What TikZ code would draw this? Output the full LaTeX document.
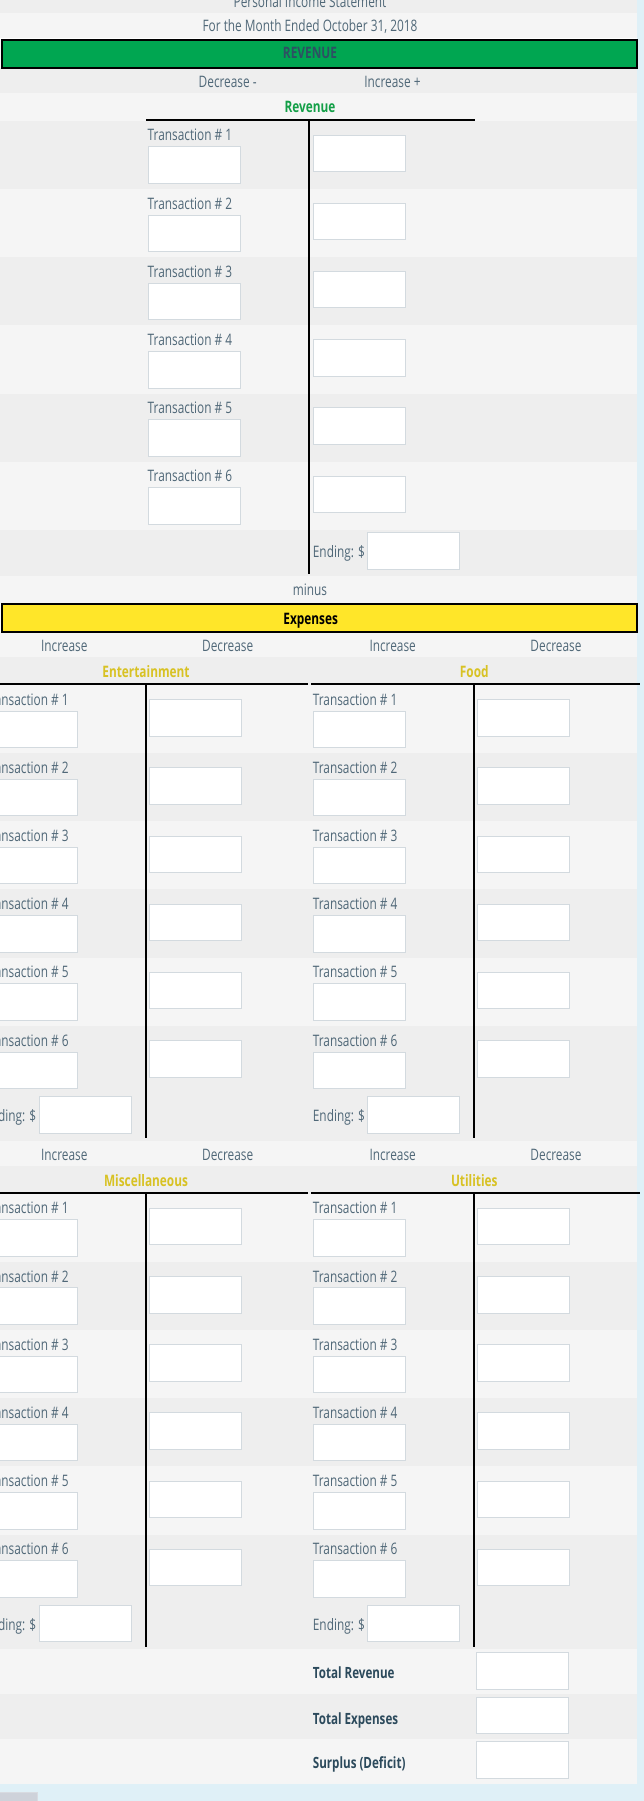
\documentclass[tikz,border=0pt]{standalone}
\usepackage{fontspec}
\setmainfont{Open Sans}[FakeStretch=0.75]
\definecolor{bgdark}{HTML}{EEEEEE}
\definecolor{bglight}{HTML}{F5F5F5}
\definecolor{skyblue}{HTML}{DFF0F7}
\definecolor{revgreen}{HTML}{00A651}
\definecolor{headgreen}{HTML}{139F47}
\definecolor{expyellow}{HTML}{FFE629}
\definecolor{headgold}{HTML}{D8C224}
\definecolor{txtc}{HTML}{506878}
\definecolor{darktxt}{HTML}{2C4A5C}
\definecolor{bartxt}{HTML}{2E5063}
\definecolor{boxline}{HTML}{D3DADF}
\definecolor{greyrect}{HTML}{CED2DA}
\tikzset{
  lbl/.style={font=\fontsize{15.8}{18}\selectfont, text=txtc, inner sep=0pt, anchor=base west},
  clbl/.style={lbl, anchor=base},
  hd/.style={clbl, font=\fontsize{15.8}{18}\selectfont\bfseries},
  tot/.style={lbl, text=darktxt, font=\fontsize{15.5}{18}\selectfont\bfseries},
  inbox/.style={draw=boxline, fill=white, line width=1pt, inner sep=0pt,
    minimum width=92pt, minimum height=36.5pt, anchor=north west},
  tline/.style={draw=black, line width=2pt},
  barbox/.style={draw=black, line width=2pt, inner sep=0pt, anchor=north west,
    minimum width=634.4pt, minimum height=28pt}
}
\begin{document}
\begin{tikzpicture}[x=1pt,y=-1pt]
\useasboundingbox (0,0) rectangle (644,1801);
\clip (0,0) rectangle (644,1801);
% ---------- backgrounds ----------
\fill[bgdark] (0,0) rectangle (637,12.7);
\fill[bglight] (0,12.7) rectangle (637,38.5);
\fill[bgdark] (0,68) rectangle (637,93);
\fill[bglight] (0,93) rectangle (637,120.7);
\foreach \k/\col in {1/bgdark,2/bglight,3/bgdark,4/bglight,5/bgdark,6/bglight}{
  \pgfmathsetmacro{\B}{120.7+68.2*(\k-1)}
  \fill[\col] (0,\B) rectangle (637,\B+68.2);
}
\fill[bgdark] (0,529.9) rectangle (637,576.3);
\fill[bglight] (0,576.3) rectangle (637,602.5);
\foreach \off in {0,508.7}{
  \fill[bglight] (0,631.8+\off) rectangle (637,657.3+\off);
  \fill[bgdark] (0,657.3+\off) rectangle (637,684.8+\off);
  \foreach \k/\col in {1/bglight,2/bgdark,3/bglight,4/bgdark,5/bglight,6/bgdark}{
    \pgfmathsetmacro{\B}{684.8+\off+68.2*(\k-1)}
    \fill[\col] (0,\B) rectangle (637,\B+68.2);
  }
  \fill[bgdark] (0,1094+\off) rectangle (637,1140.5+\off);
}
\fill[bglight] (0,1649.2) rectangle (637,1694.3);
\fill[bgdark] (0,1694.3) rectangle (637,1739);
\fill[bglight] (0,1739) rectangle (637,1783.7);
\fill[skyblue] (637,0) rectangle (644,1801);
\fill[skyblue] (0,1783.7) rectangle (644,1801);
\fill[greyrect, draw=greyrect!80!white] (-1,1792.6) rectangle (37.5,1802);
% ---------- header ----------
\node[clbl] (title) at (310,7.3) {Personal Income Statement};
\node[clbl] (subtitle) at (310,32) {For the Month Ended October 31, 2018};
\node[barbox, fill=revgreen] (revbar) at (1.3,39.3) {};
\node[hd, text=bartxt] (revlabel) at (310,58.8) {REVENUE};
\node[clbl] (revdec) at (227.7,87.4) {Decrease -};
\node[clbl] (revinc) at (392.5,87.4) {Increase +};
\node[hd, text=headgreen] (revhead) at (310,112.5) {Revenue};
% ---------- revenue T account ----------
\coordinate (rvTL) at (146,120);
\coordinate (rvTR) at (475,120);
\coordinate (rvVT) at (308.7,120);
\coordinate (rvVB) at (308.7,574.3);
\draw[tline] (rvTL) -- (rvTR);
\draw[tline] (rvVT) -- (rvVB);
\foreach \k in {1,...,6}{
  \pgfmathsetmacro{\B}{120.7+68.2*(\k-1)}
  \node[lbl] (rvT\k) at (147.5,\B+20.1) {Transaction \# \k};
  \node[inbox] (rvL\k) at (148,\B+25.7) {};
  \node[inbox] (rvR\k) at (312.8,\B+13.8) {};
}
\node[lbl] (rvEnd) at (312.7,557.1) {Ending: \$};
\node[inbox] (rvEndBox) at (366.9,532.1) {};
\node[clbl] (minus) at (310,595.7) {minus};
% ---------- expenses bar ----------
\node[barbox, fill=expyellow] (expbar) at (1.3,603.3) {};
\node[hd, text=black] (explabel) at (310.7,624) {Expenses};
% ---------- expense T accounts ----------
\foreach \off/\na/\nb/\ta/\tb in {0/ent/food/Entertainment/Food, 508.7/misc/util/Miscellaneous/Utilities}{
  \node[clbl] (\na inc) at (64.3,651.7+\off) {Increase};
  \node[clbl] (\na dec) at (227.7,651.7+\off) {Decrease};
  \node[clbl] (\nb inc) at (392.7,651.7+\off) {Increase};
  \node[clbl] (\nb dec) at (556,651.7+\off) {Decrease};
  \node[hd, text=headgold] (\na head) at (146,677.3+\off) {\ta};
  \node[hd, text=headgold] (\nb head) at (474.3,677.3+\off) {\tb};
  \coordinate (\na TL) at (-2,684+\off);
  \coordinate (\na TR) at (308.3,684+\off);
  \coordinate (\nb TL) at (311,684+\off);
  \coordinate (\nb TR) at (640,684+\off);
  \coordinate (\na VT) at (145.7,684+\off);
  \coordinate (\na VB) at (145.7,1138.3+\off);
  \coordinate (\nb VT) at (474.3,684+\off);
  \coordinate (\nb VB) at (474.3,1138.3+\off);
  \draw[tline] (\na TL) -- (\na TR);
  \draw[tline] (\nb TL) -- (\nb TR);
  \draw[tline] (\na VT) -- (\na VB);
  \draw[tline] (\nb VT) -- (\nb VB);
  \foreach \k in {1,...,6}{
    \pgfmathsetmacro{\B}{684.8+\off+68.2*(\k-1)}
    \node[lbl] (\na T\k) at (-16,\B+20.3) {Transaction \# \k};
    \node[inbox] (\na L\k) at (-15.5,\B+25.7) {};
    \node[inbox] (\na R\k) at (148.6,\B+14.3) {};
    \node[lbl] (\nb T\k) at (312.7,\B+20.3) {Transaction \# \k};
    \node[inbox] (\nb L\k) at (313.2,\B+25.7) {};
    \node[inbox] (\nb R\k) at (477.2,\B+14.3) {};
  }
  \node[lbl] (\na End) at (-16,1121.3+\off) {Ending: \$};
  \node[inbox] (\na EndBox) at (38.5,1096.2+\off) {};
  \node[lbl] (\nb End) at (312.7,1121.3+\off) {Ending: \$};
  \node[inbox] (\nb EndBox) at (367.2,1096.2+\off) {};
}
% ---------- totals ----------
\node[tot] (totrev) at (312.7,1678.7) {Total Revenue};
\node[inbox] (totrevbox) at (476.2,1652.2) {};
\node[tot] (totexp) at (312.7,1724) {Total Expenses};
\node[inbox] (totexpbox) at (476.2,1696.8) {};
\node[tot] (surplus) at (312.7,1768.3) {Surplus (Deficit)};
\node[inbox] (surplusbox) at (476.2,1741.3) {};
\end{tikzpicture}
\end{document}
